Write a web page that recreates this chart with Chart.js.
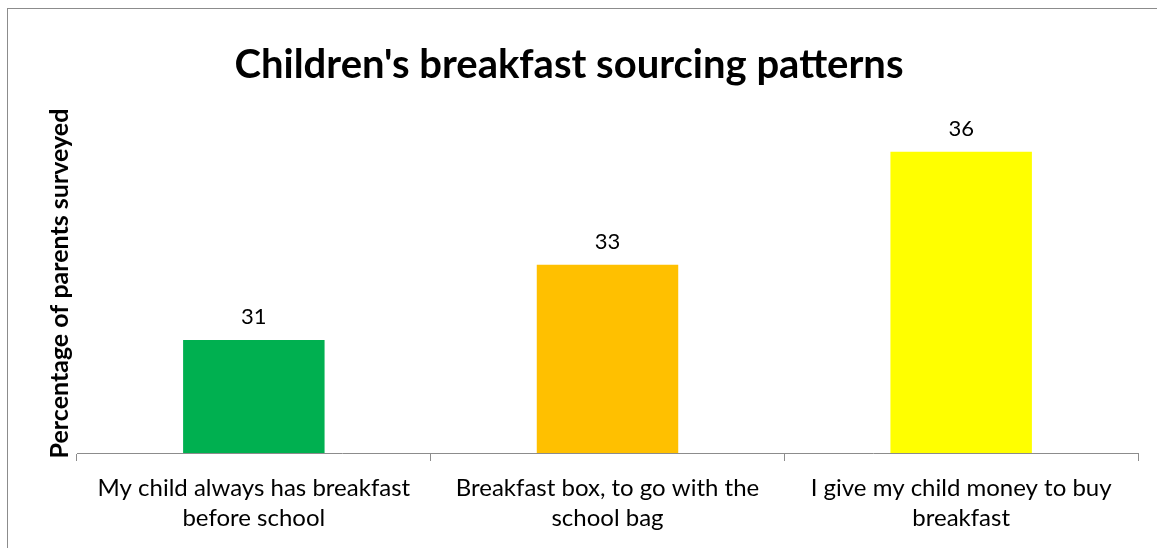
<!DOCTYPE html>
<html>
<head>
<meta charset="utf-8">
<title>Children's breakfast sourcing patterns</title>
<script src="https://cdn.jsdelivr.net/npm/chart.js@4.4.1/dist/chart.umd.min.js"></script>
<style>
  html, body { margin: 0; padding: 0; background: #fff; overflow: hidden; }
  #wrap { position: relative; width: 1157px; height: 548px; }
  #marco { position: absolute; left: 7px; top: 8px; width: 1170px; height: 560px; border: 1px solid #8c8c8c; box-sizing: border-box; pointer-events: none; }
  canvas { position: absolute; left: 0; top: 0; }
</style>
</head>
<body>
<div id="wrap">
  <canvas id="grafico" width="1157" height="548"></canvas>
  <div id="marco"></div>
</div>
<script>
  // Datos
  const categorias = [
    ['My child always has breakfast', 'before school'],
    ['Breakfast box, to go with the', 'school bag'],
    ['I give my child money to buy', 'breakfast'],
  ];
  const porcentajes = [31, 33, 36];
  const colores = ['#00B050', '#FFC000', '#FFFF00'];

  const fuente = "Lato, 'Open Sans', sans-serif";

  // Etiquetas de valor encima de cada barra
  const etiquetasValor = {
    id: 'etiquetasValor',
    afterDatasetsDraw(chart) {
      const ctx = chart.ctx;
      const meta = chart.getDatasetMeta(0);
      ctx.save();
      ctx.font = '22px ' + fuente;
      ctx.fillStyle = '#000';
      ctx.textAlign = 'center';
      ctx.textBaseline = 'middle';
      meta.data.forEach((bar, i) => {
        ctx.fillText(String(porcentajes[i]), bar.x, bar.y - 23);
      });
      ctx.restore();
    },
  };

  new Chart(document.getElementById('grafico'), {
    type: 'bar',
    data: {
      labels: categorias,
      datasets: [
        {
          data: porcentajes,
          backgroundColor: colores,
          borderWidth: 0,
          categoryPercentage: 1,
          barPercentage: 0.4,
        },
      ],
    },
    options: {
      responsive: false,
      animation: false,
      devicePixelRatio: 1,
      layout: { padding: { left: 0, right: 19, top: 0, bottom: 3 } },
      plugins: {
        legend: { display: false },
        tooltip: { enabled: false },
        title: {
          display: true,
          text: "Children's breakfast sourcing patterns",
          color: '#000',
          font: { family: fuente, size: 40, weight: 'bold', lineHeight: 1.2 },
          padding: { top: 41, bottom: 25 },
        },
      },
      scales: {
        x: {
          grid: { display: true, drawOnChartArea: false, drawTicks: true, tickLength: 8, color: '#8c8c8c', offset: true },
          border: { display: true, color: '#8c8c8c', width: 1 },
          ticks: { color: '#000', padding: 12, maxRotation: 0, font: { family: fuente, size: 24, lineHeight: 1.25 } },
        },
        y: {
          min: 28,
          max: 37,
          grid: { display: false, drawTicks: false },
          border: { display: false },
          ticks: { display: false },
          title: {
            display: true,
            text: 'Percentage of parents surveyed',
            color: '#000',
            font: { family: fuente, size: 25, weight: 'bold', lineHeight: 1.2 },
            padding: { top: 45, bottom: 2 },
          },
        },
      },
    },
    plugins: [etiquetasValor],
  });
</script>
</body>
</html>
